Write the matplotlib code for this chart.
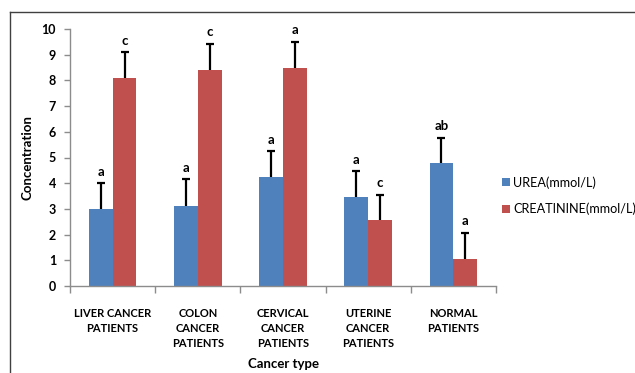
import matplotlib
matplotlib.use("Agg")
import matplotlib.pyplot as plt
from matplotlib.lines import Line2D
import numpy as np

plt.rcParams['font.family'] = ['Lato', 'DejaVu Sans']

categories = ["LIVER CANCER\nPATIENTS", "COLON\nCANCER\nPATIENTS", "CERVICAL\nCANCER\nPATIENTS",
              "UTERINE\nCANCER\nPATIENTS", "NORMAL\nPATIENTS"]
urea = [3.00, 3.12, 4.25, 3.47, 4.77]
urea_err = [1.0, 1.03, 1.0, 1.0, 1.0]
creat = [8.08, 8.40, 8.50, 2.56, 1.04]
creat_err = [1.02, 1.02, 1.0, 1.0, 1.03]
urea_letters = ["a", "a", "a", "a", "ab"]
creat_letters = ["c", "c", "a", "c", "a"]
series_names = ["UREA(mmol/L)", "CREATININE(mmol/L)"]

BLUE = "#4F81BD"
RED = "#C0504D"
AXIS_GREY = "#8C8C8C"

fig = plt.figure(figsize=(6.35, 3.73), dpi=100)
ax = fig.add_axes([70 / 635, 1 - 286 / 373, 426 / 635, 257 / 373])

# outer frame, open on right and bottom
fig.add_artist(Line2D([10 / 635, 1.0], [1 - 12 / 373, 1 - 12 / 373], transform=fig.transFigure,
                      color="#404040", lw=1.0))
fig.add_artist(Line2D([10 / 635, 10 / 635], [1 - 12 / 373, 0.0], transform=fig.transFigure,
                      color="#404040", lw=1.0))

x = np.arange(len(categories))
w = 0.28
b1 = ax.bar(x - w / 2, urea, w, color=BLUE, label=series_names[0], zorder=2)
b2 = ax.bar(x + w / 2, creat, w, color=RED, label=series_names[1], zorder=2)


def upper_errbars(xs, vals, errs):
    # plus-only error bars: hide the cap sitting on the bar top
    eb = ax.errorbar(xs, vals, yerr=[np.zeros(len(vals)), errs], fmt="none", ecolor="black",
                     elinewidth=1.6, capsize=3, capthick=1.6, zorder=3)
    caps = eb.lines[1]
    if len(caps) > 1:
        caps[0].set_visible(False)


upper_errbars(x - w / 2, urea, urea_err)
upper_errbars(x + w / 2, creat, creat_err)

for xi, v, e, t in zip(x - w / 2, urea, urea_err, urea_letters):
    ax.annotate(t, (xi, v + e), xytext=(0, 4), textcoords="offset points",
                ha="center", va="bottom", fontsize=9.5, fontweight="bold", annotation_clip=False)
for xi, v, e, t in zip(x + w / 2, creat, creat_err, creat_letters):
    ax.annotate(t, (xi, v + e), xytext=(0, 4), textcoords="offset points",
                ha="center", va="bottom", fontsize=9.5, fontweight="bold", annotation_clip=False)

ax.set_xlim(-0.5, len(categories) - 0.5)
ax.set_ylim(0, 10)
ax.set_yticks(range(0, 11))
ax.tick_params(axis="y", labelsize=9, colors=AXIS_GREY, labelcolor="black", length=4, width=1, pad=6)
for lbl in ax.get_yticklabels():
    lbl.set_fontweight("bold")

ax.set_xticks(x)
ax.set_xticklabels(categories, fontsize=8, fontweight="bold", linespacing=1.45)
ax.tick_params(axis="x", length=0, pad=16)
ax.set_xticks(np.arange(-0.5, len(categories)), minor=True)
ax.tick_params(axis="x", which="minor", length=5, width=1, color=AXIS_GREY)

for s in ["top", "right"]:
    ax.spines[s].set_visible(False)
for s in ["left", "bottom"]:
    ax.spines[s].set_color(AXIS_GREY)
    ax.spines[s].set_linewidth(1.0)

ax.set_ylabel("Concentration", fontsize=9.5, fontweight="bold", labelpad=6)
ax.set_xlabel("Cancer type", fontsize=9.5, fontweight="bold", labelpad=6)

fig.legend(handles=[b1, b2], labels=series_names, loc="upper left",
           bbox_to_anchor=(497 / 635, 1 - 171 / 373), frameon=False, fontsize=9.1,
           handlelength=0.6, handleheight=0.6, handletextpad=0.3, labelspacing=1.1,
           borderaxespad=0)

fig.savefig("out.png", dpi=100)
